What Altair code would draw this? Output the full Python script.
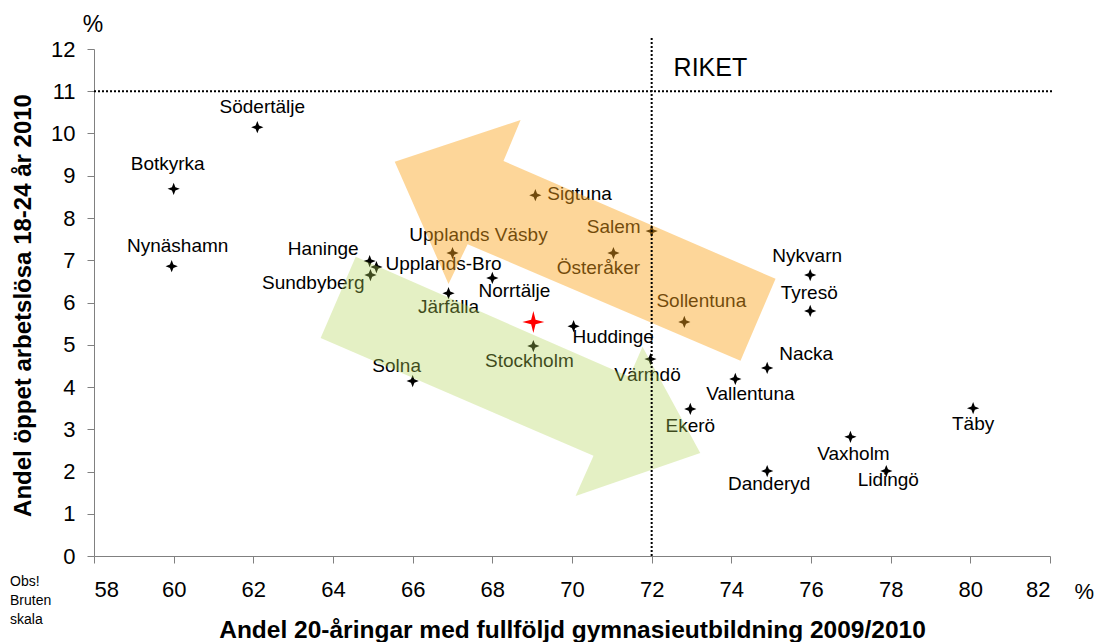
import altair as alt
import pandas as pd

# ---- data ----
kommuner = ["Södertälje", "Botkyrka", "Nynäshamn", "Haninge", "Upplands-Bro", "Sundbyberg",
            "Upplands Väsby", "Järfälla", "Norrtälje", "Sigtuna", "Salem", "Österåker",
            "Sollentuna", "Huddinge", "Stockholm", "Värmdö", "Solna", "Ekerö", "Nacka",
            "Vallentuna", "Nykvarn", "Tyresö", "Täby", "Vaxholm", "Danderyd", "Lidingö"]
gymnasie = [62.1, 60.0, 59.95, 64.92, 65.09, 64.94, 67.0, 66.9, 68.0, 69.08, 72.0, 71.04,
            72.82, 70.04, 69.03, 71.97, 66.0, 72.97, 74.9, 74.1, 75.98, 75.98, 80.07, 76.99,
            74.9, 77.89]
arbetslosa = [10.15, 8.69, 6.86, 6.98, 6.84, 6.65, 7.17, 6.22, 6.58, 8.54, 7.69, 7.17,
              5.54, 5.44, 4.97, 4.66, 4.14, 3.48, 4.45, 4.19, 6.65, 5.8, 3.5, 2.82, 2.01, 2.01]

lan_x = [69.03]
lan_y = [5.54]

riket_x = 72
riket_y = 11

# label placement (align, pixel offsets dx, dy)
label_align = ["center", "center", "center", "right", "left", "right",
               "center", "center", "center", "left", "right", "center",
               "center", "left", "center", "center", "center", "center", "left",
               "center", "center", "center", "center", "center", "center", "center"]
label_dx = [5, -6, 6, -11, 9, -6, 26, 0, 22, 12, -11, -15, 17, -1, -4, -3, -16, 0, 12,
            15, -3, -1, 0, 3, 2, 2]
label_dy = [-20, -25, -20, -12, -3, 8, -18, 14, 13, -1, -4, 15, -21, 11, 15, 16, -15, 17,
            -14, 15, -19, -18, 16, 17, 13, 9]

# arrow outlines (data units)
orange_x = [65.55, 68.71, 68.28, 75.11, 74.23, 67.38, 66.9]
orange_y = [9.33, 10.32, 9.35, 6.56, 4.62, 7.38, 6.44]
green_x = [64.57, 71.44, 71.77, 73.22, 70.09, 70.54, 63.69]
green_y = [7.08, 4.24, 4.95, 2.44, 1.42, 2.37, 5.16]

X_DOMAIN = [58, 82]
Y_DOMAIN = [0, 12]
X_TICKS = list(range(58, 83, 2))
Y_TICKS = list(range(0, 13, 1))

W, H = 956, 507
PX_X = W / (X_DOMAIN[1] - X_DOMAIN[0])
PX_Y = H / (Y_DOMAIN[1] - Y_DOMAIN[0])

FONT = "Liberation Sans"

df = pd.DataFrame({"namn": kommuner, "x": gymnasie, "y": arbetslosa,
                   "align": label_align, "dx": label_dx, "dy": label_dy})
df["lx"] = df["x"] + df["dx"] / PX_X
df["ly"] = df["y"] - df["dy"] / PX_Y

xs = alt.Scale(domain=X_DOMAIN, nice=False, zero=False)
ys = alt.Scale(domain=Y_DOMAIN, nice=False, zero=False)

x_axis = alt.Axis(values=X_TICKS, title="Andel 20-åringar med fullföljd gymnasieutbildning 2009/2010",
                  grid=False, labelFontSize=22, labelFont=FONT, labelColor="black",
                  labelPadding=16, tickSize=7, tickColor="#808080", domainColor="#808080",
                  titleFont=FONT, titleFontSize=24.5, titleFontWeight="bold", titleColor="black",
                  titleX=478, titleY=74, titleBaseline="middle", titleAlign="center")
y_axis = alt.Axis(values=Y_TICKS, title="Andel öppet arbetslösa 18-24 år 2010",
                  grid=False, labelFontSize=22, labelFont=FONT, labelColor="black",
                  labelPadding=12, tickSize=7, tickColor="#808080", domainColor="#808080",
                  titleFont=FONT, titleFontSize=24, titleFontWeight="bold", titleColor="black",
                  titleX=-71, titleY=256, titleAngle=-90, titleBaseline="middle",
                  titleAlign="center")

STAR = "M0,-1L0.28,-0.28L1,0L0.28,0.28L0,1L-0.28,0.28L-1,0L-0.28,-0.28Z"

base = alt.Chart(df)

points = base.mark_point(shape=STAR, filled=True, color="black", size=150, opacity=1).encode(
    x=alt.X("x:Q", scale=xs, axis=x_axis),
    y=alt.Y("y:Q", scale=ys, axis=y_axis),
)

labels = []
for al in ["left", "center", "right"]:
    labels.append(
        base.transform_filter(alt.datum.align == al)
        .mark_text(align=al, baseline="middle", font=FONT, fontSize=19, color="black")
        .encode(x=alt.X("lx:Q", scale=xs), y=alt.Y("ly:Q", scale=ys), text="namn:N")
    )

red = alt.Chart(pd.DataFrame({"x": lan_x, "y": lan_y})).mark_point(
    shape="M0,-1L0.2,-0.2L1,0L0.2,0.2L0,1L-0.2,0.2L-1,0L-0.2,-0.2Z",
    filled=True, color="#ff0000", size=480, opacity=1
).encode(x=alt.X("x:Q", scale=xs), y=alt.Y("y:Q", scale=ys))

def arrow(xv, yv, col, op):
    d = pd.DataFrame({"x": xv, "y": yv, "i": list(range(len(xv)))})
    return alt.Chart(d).mark_line(fill=col, fillOpacity=op, strokeWidth=0, strokeOpacity=0,
                                  interpolate="linear-closed").encode(
        x=alt.X("x:Q", scale=xs), y=alt.Y("y:Q", scale=ys), order="i:Q")

orange = arrow(orange_x, orange_y, "#fba41d", 0.45)
green = arrow(green_x, green_y, "#b2d456", 0.35)

hline = alt.Chart(pd.DataFrame({"x": [X_DOMAIN[0]], "x2": [82.07], "y": [riket_y]})).mark_rule(
    color="black", strokeWidth=2, strokeDash=[2, 2]
).encode(x=alt.X("x:Q", scale=xs), x2="x2:Q", y=alt.Y("y:Q", scale=ys))

vline = alt.Chart(pd.DataFrame({"x": [riket_x], "y": [0], "y2": [12.26]})).mark_rule(
    color="black", strokeWidth=2, strokeDash=[2, 2]
).encode(x=alt.X("x:Q", scale=xs), y=alt.Y("y:Q", scale=ys), y2="y2:Q")

riket = alt.Chart(pd.DataFrame({"x": [72.55], "y": [11.55], "t": ["RIKET"]})).mark_text(
    align="left", baseline="middle", font=FONT, fontSize=25, color="black"
).encode(x=alt.X("x:Q", scale=xs), y=alt.Y("y:Q", scale=ys), text="t:N")

pct_y = alt.Chart(pd.DataFrame({"t": ["%"]})).mark_text(
    align="center", baseline="middle", font=FONT, fontSize=23, color="black"
).encode(x=alt.value(-1), y=alt.value(-24), text="t:N")

pct_x = alt.Chart(pd.DataFrame({"t": ["%"]})).mark_text(
    align="right", baseline="middle", font=FONT, fontSize=22, color="black"
).encode(x=alt.value(1000), y=alt.value(H + 36), text="t:N")

obs = alt.Chart(pd.DataFrame({"t": ["Obs!", "Bruten", "skala"], "yy": [H + 26, H + 45, H + 64]})).mark_text(
    align="left", baseline="middle", font=FONT, fontSize=14, color="black"
).encode(x=alt.value(-84), y=alt.Y("yy:Q", scale=None), text="t:N")

chart = alt.layer(
    points, *labels, red, orange, green, hline, vline, riket, pct_y, pct_x, obs
).properties(
    width=W, height=H,
    autosize=alt.AutoSizeParams(type="none"),
    padding={"left": 86, "top": 41, "right": 45, "bottom": 86},
).configure_view(stroke=None).configure_axis(labelFont=FONT)

chart.save("out.html", embed_options={"renderer": "svg", "actions": False})
